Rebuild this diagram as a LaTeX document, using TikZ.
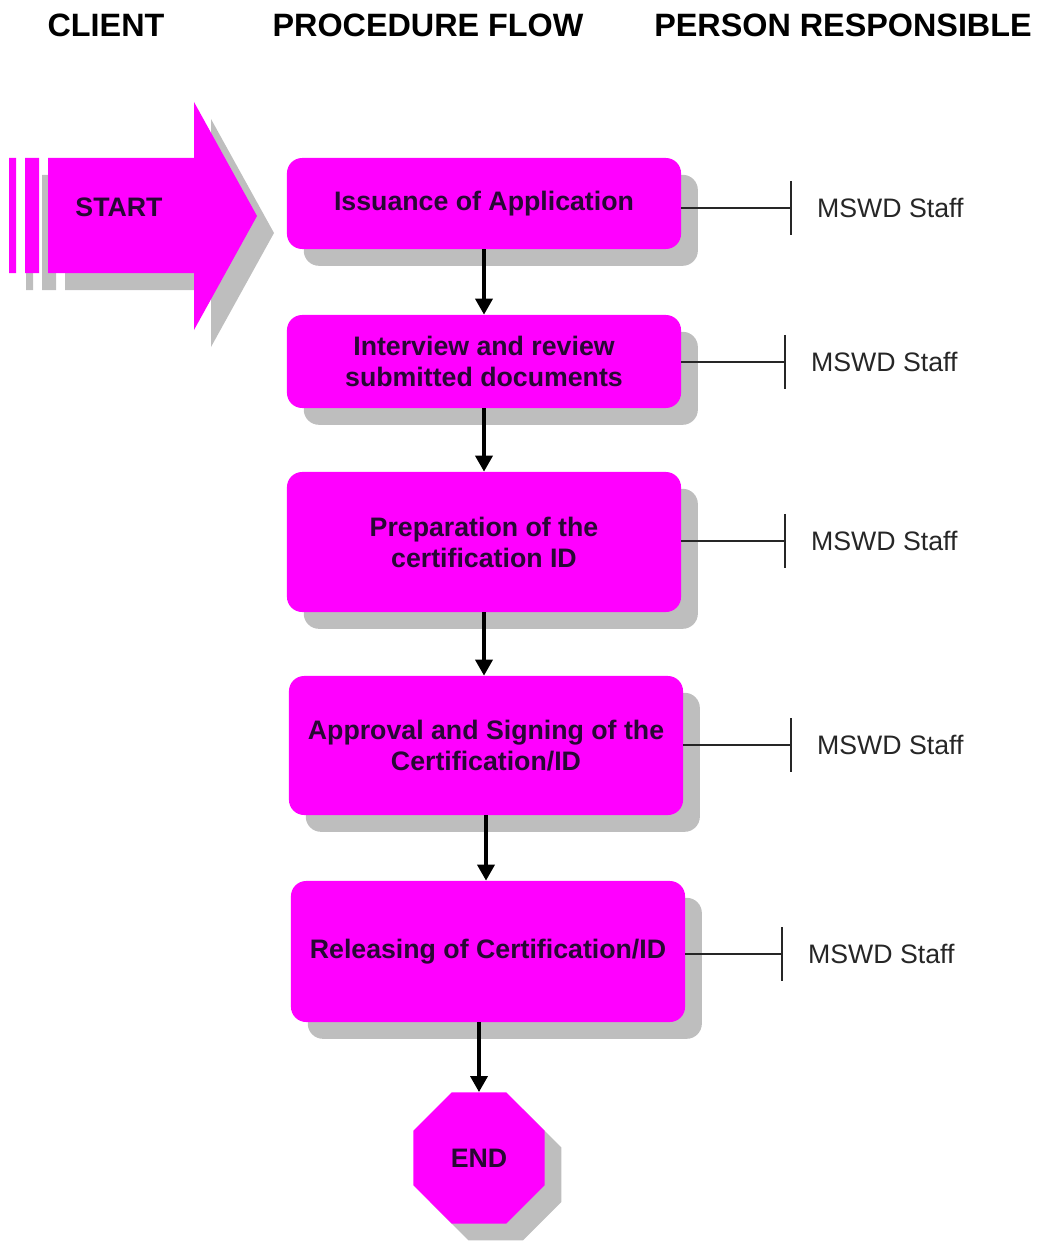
\documentclass[tikz,border=0pt]{standalone}
\usepackage{fontspec}
\setmainfont{Liberation Sans}
\usetikzlibrary{arrows.meta,shadows,positioning,shapes.geometric}
\definecolor{mag}{RGB}{255,0,255}
\definecolor{shgray}{RGB}{190,190,190}
\definecolor{ink}{RGB}{40,8,52}

\begin{document}
\begin{tikzpicture}[x=0.025cm, y=-0.025cm,
    head/.style={font=\fontsize{23pt}{26pt}\selectfont\bfseries, inner sep=0pt},
    stepbox/.style={rectangle, rounded corners=0.38cm, fill=mag, text=ink,
                    minimum width=9.85cm, align=center, inner sep=2pt,
                    font=\fontsize{19pt}{22pt}\selectfont\bfseries,
                    drop shadow={shadow xshift=0.42cm, shadow yshift=-0.42cm,
                                 fill=shgray, opacity=1}},
    octa/.style={regular polygon, regular polygon sides=8, minimum size=3.55cm,
                 fill=mag, text=ink, inner sep=0pt,
                 font=\fontsize{19pt}{22pt}\selectfont\bfseries,
                 drop shadow={shadow xshift=0.42cm, shadow yshift=-0.42cm,
                              fill=shgray, opacity=1}},
    staff/.style={font=\fontsize{19pt}{22pt}\selectfont, text=black!85, inner sep=0pt},
    flow/.style={-{Triangle[length=0.4cm,width=0.42cm]}, line width=2.8pt},
    tick/.style={-{Bar[width=1.35cm]}, line width=1.3pt, black!85}]
    \useasboundingbox (0,0) rectangle (1038,1241);
    % column heads
    \node[head] (hclient) at (106,25)  {CLIENT};
    \node[head] (hflow)   at (428,25)  {PROCEDURE FLOW};
    \node[head] (hperson) at (843,25)  {PERSON RESPONSIBLE};
    % start arrow (shadow first)
    \foreach \col/\d in {shgray/17, mag/0} {
      \fill[\col, shift={(\d,\d)}] (9,158) rectangle (16,273) (25,158) rectangle (39,273)
        (48,158) -- (194,158) -- (194,102) -- (257,216) -- (194,330)
        -- (194,273) -- (48,273) -- cycle;
    }
    \node[font=\fontsize{19pt}{22pt}\selectfont\bfseries, text=ink] (start) at (119,207) {START};
    % procedure steps
    \node[stepbox, minimum height=2.275cm] (s1) at (484,203.5) {Issuance of Application};
    \node[stepbox, minimum height=2.325cm] (s2) at (484,361.5) {Interview and review\\submitted documents};
    \node[stepbox, minimum height=3.5cm]   (s3) at (484,542)   {Preparation of the\\certification ID};
    \node[stepbox, minimum height=3.475cm] (s4) at (486,745.5) {Approval and Signing of the\\Certification/ID};
    \node[stepbox, minimum height=3.525cm] (s5) at (488,951.5) {Releasing of Certification/ID};
    \node[octa] (fin) at (479,1158) {END};
    % flow arrows
    \draw[flow] (s1.south) -- (s2.north);
    \draw[flow] (s2.south) -- (s3.north);
    \draw[flow] (s3.south) -- (s3.south |- s4.north);
    \draw[flow] (s4.south) -- (s4.south |- s5.north);
    \draw[flow] (fin.north |- s5.south) -- (fin.north);
    % person responsible
    \foreach \i/\x/\y in {1/792/208, 2/786/362, 3/786/541, 4/792/745, 5/783/954} {
      \coordinate (t\i) at (\x,\y);
      \draw[tick] (s\i.east |- t\i) -- (t\i);
      \node[staff, right=0.62cm of t\i] (p\i) {MSWD Staff};
    }
\end{tikzpicture}
\end{document}
